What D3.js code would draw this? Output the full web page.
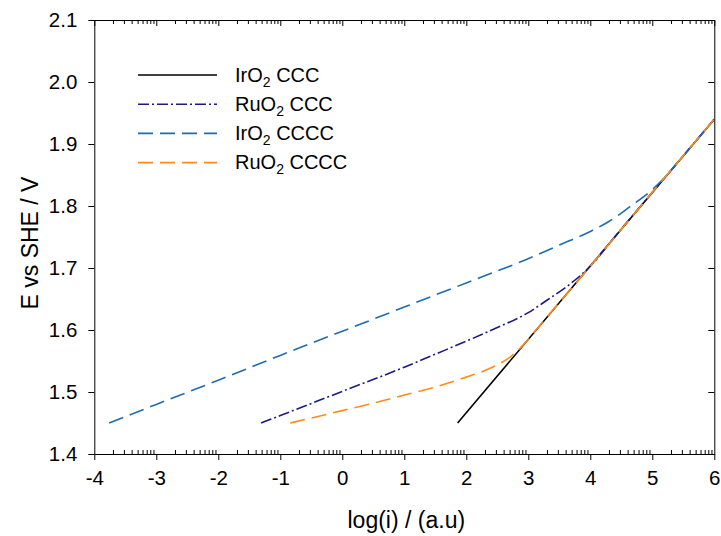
<!DOCTYPE html>
<html>
<head>
<meta charset="utf-8">
<script src="https://cdn.jsdelivr.net/npm/d3@7"></script>
<style>
  body { margin: 0; background: #fff; }
  svg { display: block; }
  text { font-family: "Liberation Sans", Arial, sans-serif; fill: #000; }
</style>
</head>
<body>
<svg id="chart" width="721" height="536"></svg>
<script>
// Tick values
const xTickValues = [-4, -3, -2, -1, 0, 1, 2, 3, 4, 5, 6];
const yTickValues = [1.4, 1.5, 1.6, 1.7, 1.8, 1.9, 2.0, 2.1];

// Series: [log(i), E vs SHE]
const seriesNames = ["IrO2 CCC", "RuO2 CCC", "IrO2 CCCC", "RuO2 CCCC"];
const irO2CCC = [[1.86, 1.450], [6.0, 1.940]];
const ruO2CCC = [
  [-1.31, 1.450], [-1.0, 1.462], [0.0, 1.501], [1.0, 1.540], [1.5, 1.561],
  [2.0, 1.582], [2.5, 1.604], [3.0, 1.628], [3.3, 1.648], [3.62, 1.670],
  [3.95, 1.698], [4.5, 1.763], [5.0, 1.822], [5.5, 1.881], [6.0, 1.940]
];
const irO2CCCC = [
  [-3.76, 1.450], [-3.0, 1.480], [-2.0, 1.519], [-1.0, 1.559], [0.0, 1.598],
  [1.0, 1.637], [2.0, 1.676], [2.95, 1.713], [3.5, 1.737], [4.0, 1.759],
  [4.3, 1.775], [4.64, 1.799], [5.04, 1.830], [5.2, 1.846], [5.5, 1.881],
  [6.0, 1.940]
];
const ruO2CCCC = [
  [-0.84, 1.450], [-0.5, 1.458], [0.0, 1.470], [0.5, 1.482], [1.0, 1.495],
  [1.5, 1.508], [2.0, 1.524], [2.4, 1.539], [2.7, 1.556], [2.9, 1.574],
  [3.2, 1.609], [4.0, 1.703], [5.0, 1.822], [6.0, 1.940]
];

const seriesData = [irO2CCC, ruO2CCC, irO2CCCC, ruO2CCCC];
const seriesColors = ["#000000", "#1b1b87", "#1f6cb0", "#ff8c1a"];
const seriesDash = [null, "11,3,2,3", "15,7", "15,7"];

const svg = d3.select("#chart");
const plotLeft = 94.3, plotRight = 714.3, plotTop = 20, plotBottom = 454;

const x = d3.scaleLinear().domain([-4, 6]).range([plotLeft, plotRight]);
const y = d3.scaleLinear().domain([1.4, 2.1]).range([plotBottom, plotTop]);

// log-style minor ticks inside each decade
const minorX = [];
for (let n = -4; n < 6; n++) {
  for (let k = 2; k <= 9; k++) minorX.push(n + Math.log10(k));
}

function styleAxis(g) {
  g.selectAll("path.domain").attr("stroke", "#000").attr("stroke-width", 1);
  g.selectAll(".tick line").attr("stroke", "#000").attr("stroke-width", 1);
}

// bottom axis: major ticks outward, minor ticks inward
svg.append("g")
  .attr("transform", `translate(0,${plotBottom})`)
  .call(d3.axisBottom(x).tickValues(minorX).tickSize(-4).tickSizeOuter(0).tickFormat(""))
  .call(styleAxis);
const xAxisG = svg.append("g")
  .attr("transform", `translate(0,${plotBottom})`)
  .call(d3.axisBottom(x).tickValues(xTickValues).tickSize(6).tickSizeOuter(0)
    .tickPadding(10).tickFormat(d => String(d)))
  .call(styleAxis);
xAxisG.selectAll("text").attr("font-size", 20.5).attr("font-family", null).attr("fill", "#000");

// top axis: all ticks inward
svg.append("g")
  .attr("transform", `translate(0,${plotTop})`)
  .call(d3.axisTop(x).tickValues(minorX).tickSize(-4).tickSizeOuter(0).tickFormat(""))
  .call(styleAxis);
svg.append("g")
  .attr("transform", `translate(0,${plotTop})`)
  .call(d3.axisTop(x).tickValues(xTickValues).tickSize(-6).tickSizeOuter(0).tickFormat(""))
  .call(styleAxis);

// left axis
const yAxisG = svg.append("g")
  .attr("transform", `translate(${plotLeft},0)`)
  .call(d3.axisLeft(y).tickValues(yTickValues).tickSize(6).tickSizeOuter(0)
    .tickPadding(11).tickFormat(d3.format(".1f")))
  .call(styleAxis);
yAxisG.selectAll("text").attr("font-size", 20.5).attr("font-family", null).attr("fill", "#000");

// right axis: ticks inward
svg.append("g")
  .attr("transform", `translate(${plotRight},0)`)
  .call(d3.axisRight(y).tickValues(yTickValues).tickSize(-6).tickSizeOuter(0).tickFormat(""))
  .call(styleAxis);

// axis titles
svg.append("text")
  .attr("x", (plotLeft + plotRight) / 2 + 2).attr("y", 528)
  .attr("text-anchor", "middle").attr("font-size", 23)
  .text("log(i) / (a.u)");
svg.append("text")
  .attr("transform", "translate(38,243) rotate(-90)")
  .attr("text-anchor", "middle").attr("font-size", 23)
  .text("E vs SHE / V");

// curves
const line = d3.line()
  .x(d => x(d[0])).y(d => y(d[1]))
  .curve(d3.curveMonotoneX);

seriesData.forEach((data, i) => {
  svg.append("path")
    .datum(data)
    .attr("d", line)
    .attr("fill", "none")
    .attr("stroke", seriesColors[i])
    .attr("stroke-width", 1.6)
    .attr("stroke-dasharray", seriesDash[i]);
});

// legend
const legend = svg.append("g");
seriesNames.forEach((name, i) => {
  const ly = 75 + i * 29.2;
  legend.append("line")
    .attr("x1", 138).attr("x2", 217).attr("y1", ly).attr("y2", ly)
    .attr("stroke", seriesColors[i]).attr("stroke-width", 1.6)
    .attr("stroke-dasharray", seriesDash[i]);
  const parts = name.split("2");
  const t = legend.append("text")
    .attr("x", 235).attr("y", ly + 6.5).attr("font-size", 20);
  t.append("tspan").text(parts[0]);
  t.append("tspan").attr("font-size", 14).attr("dy", 5).text("2");
  t.append("tspan").attr("dy", -5).text(parts[1]);
});
</script>
</body>
</html>
